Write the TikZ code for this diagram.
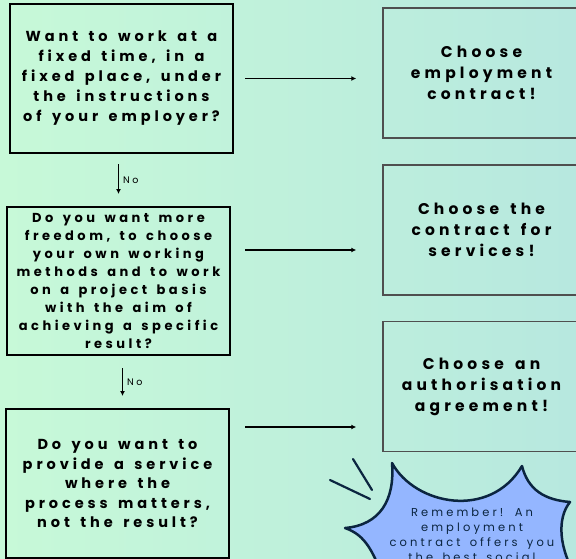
\documentclass[tikz,border=0pt]{standalone}
\usepackage{fontspec}
\setmainfont{Poppins}
\newfontfamily\trackfont{Poppins}[LetterSpace=27, WordSpace=1.5]
\usepackage{xcolor}
\usetikzlibrary{arrows.meta, positioning, calc}

\definecolor{bgleft}{HTML}{C7F9D8}
\definecolor{bgright}{HTML}{B7E8DF}
\definecolor{burstblue}{HTML}{94B6FF}
\definecolor{navy}{HTML}{0B2540}
\definecolor{boxgray}{HTML}{4F4F4F}

\begin{document}
\begin{tikzpicture}[x=1pt, y=-1pt,
    question/.style={draw=black, line width=2pt, minimum width=223pt, inner sep=0pt,
        align=center, font=\trackfont\bfseries\fontsize{14.5}{20}\selectfont},
    answer/.style={draw=boxgray, line width=1.5pt, minimum width=197pt, minimum height=130pt,
        inner sep=0pt, align=center, font=\trackfont\bfseries\fontsize{15.5}{21}\selectfont},
    flow/.style={-{Latex[length=5pt,width=5pt]}, line width=1.4pt},
    nolabel/.style={font=\trackfont\fontsize{9.5}{11}\selectfont, right, inner sep=4pt}]
    \useasboundingbox (0,0) rectangle (576,558);
    \clip (0,0) rectangle (576,558);

    % Fond
    \shade[left color=bgleft, right color=bgright] (0,0) rectangle (576,558);

    % Questions
    \node[question, minimum height=149pt] (q1) at (121.5,78.5)
        {Want to work at a\\fixed time, in a\\fixed place, under\\the instructions\\of your employer?};
    \node[question, minimum height=148pt, font=\trackfont\bfseries\fontsize{13}{17.9}\selectfont] (q2) at (118.5,281)
        {Do you want more\\freedom, to choose\\your own working\\methods and to work\\on a project basis\\with the aim of\\achieving a specific\\result?};
    \node[question, minimum height=149pt, font=\trackfont\bfseries\fontsize{14.5}{19.5}\selectfont] (q3) at (117.5,483.5)
        {Do you want to\\provide a service\\where the\\process matters,\\not the result?};

    % Reponses
    \node[answer] (r1) at (481.5,73) {Choose\\employment\\contract!};
    \node[answer] (r2) at (481.5,230) {Choose the\\contract for\\services!};
    \node[answer] (r3) at (481.5,386.5) {Choose an\\authorisation\\agreement!};

    % Fleches
    \coordinate (a1) at (q1.east);
    \coordinate (a2) at ([yshift=31pt]q2.east);
    \coordinate (a3) at ([yshift=56.5pt]q3.east);
    \draw[flow, shorten <=11pt, shorten >=26pt] (a1) -- (a1 -| r1.west);
    \draw[flow, shorten <=14pt, shorten >=26pt] (a2) -- (a2 -| r2.west);
    \draw[flow, shorten <=15pt, shorten >=26pt] (a3) -- (a3 -| r3.west);

    \draw[flow, shorten <=10pt, shorten >=12pt] (q2.north |- q1.south) -- (q2.north)
        node[midway, nolabel] {No};
    \draw[flow, shorten <=12pt, shorten >=12pt] ([xshift=4pt]q2.south) -- ([xshift=4pt]q2.south |- q3.north)
        node[midway, nolabel] {No};

    % Bulle
    \draw[navy, line width=2.5pt, fill=burstblue, line join=round]
        (392,463) .. controls (415,505) and (490,520) .. (522,466)
        .. controls (528,490) and (545,500) .. (570,502)
        .. controls (557,518) and (558,548) .. (578,580)
        -- (578,600) -- (390,600)
        .. controls (375,550) and (365,535) .. (345,528)
        .. controls (380,525) and (395,500) .. cycle;
    \draw[navy, line width=2.2pt, line cap=round] (330,480) -- (370,499);
    \draw[navy, line width=2.2pt, line cap=round] (353,459) -- (372,490);
    \node[anchor=north, inner sep=0pt, align=center, text=navy,
        font=\trackfont\fontsize{11.5}{15}\selectfont] (tip) at (472,508)
        {Remember! An\\employment\\contract offers you\\the best social};
\end{tikzpicture}
\end{document}
